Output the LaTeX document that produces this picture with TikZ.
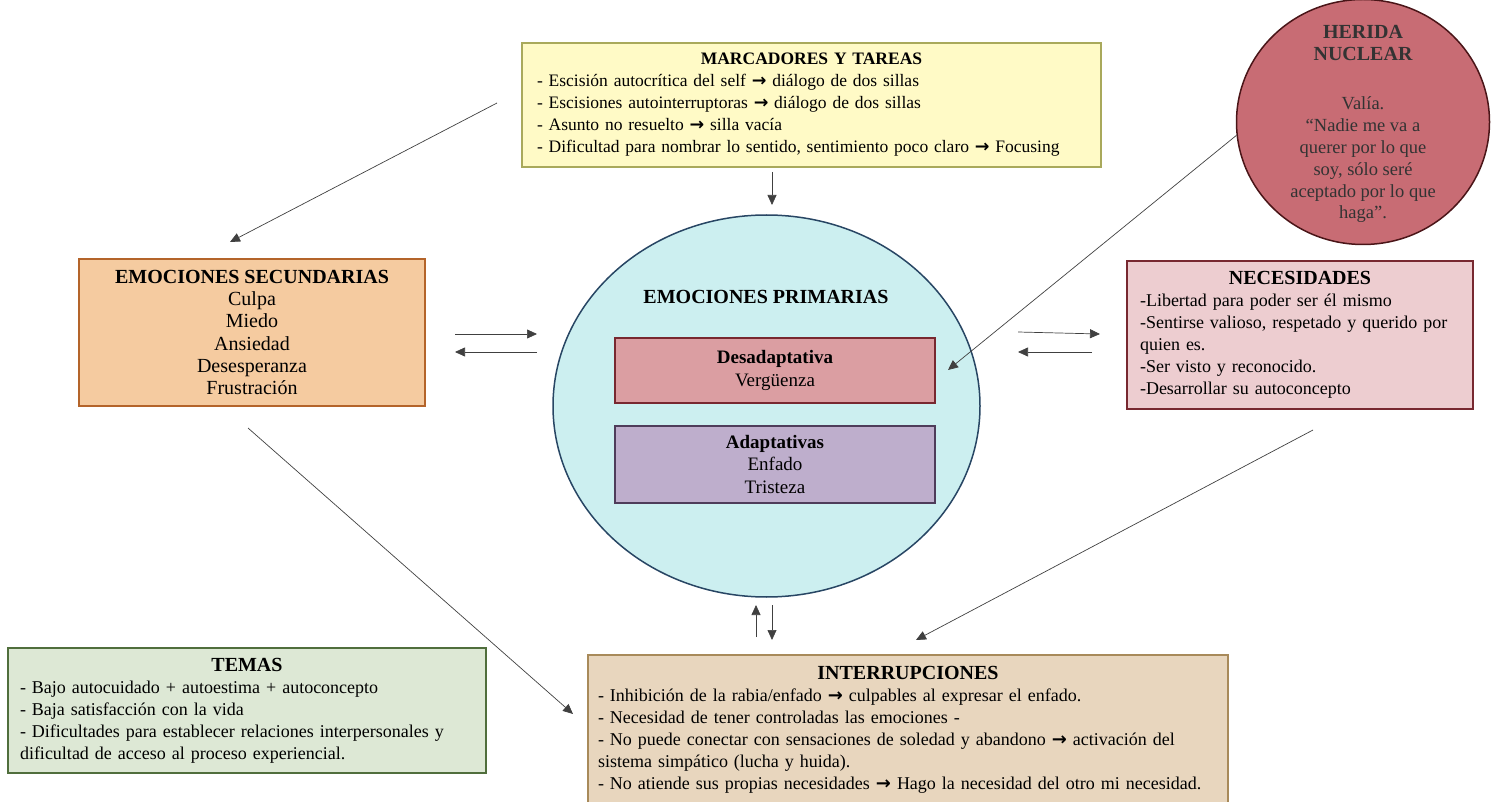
\documentclass[tikz,border=0pt]{standalone}
\usepackage{fontspec}
\setmainfont{Liberation Serif}
\newfontfamily\symbolfont{DejaVu Sans}
\usetikzlibrary{arrows.meta,shapes.geometric,calc}

\definecolor{marcfill}{HTML}{FFFAC6}
\definecolor{marcline}{HTML}{A9A95B}
\definecolor{heridafill}{HTML}{C86C74}
\definecolor{heridaline}{HTML}{4A1518}
\definecolor{heridatext}{HTML}{333333}
\definecolor{secfill}{HTML}{F5CBA0}
\definecolor{secline}{HTML}{B4642A}
\definecolor{primfill}{HTML}{CCEFF0}
\definecolor{primline}{HTML}{284664}
\definecolor{desfill}{HTML}{DB9EA2}
\definecolor{desline}{HTML}{782830}
\definecolor{adapfill}{HTML}{BEAECC}
\definecolor{adapline}{HTML}{4E3C5A}
\definecolor{necfill}{HTML}{EDCDD0}
\definecolor{necline}{HTML}{782830}
\definecolor{temfill}{HTML}{DDE8D5}
\definecolor{temline}{HTML}{506E3C}
\definecolor{intfill}{HTML}{E8D6BE}
\definecolor{intline}{HTML}{A88A5A}

\newcommand{\fl}{{\symbolfont\bfseries →}}
\newcommand{\tit}[1]{{\fontsize{20}{22}\selectfont\bfseries #1}}

\begin{document}
\fontsize{18}{22}\selectfont
\begin{tikzpicture}[x=1pt,y=-1pt,
    caja/.style={draw, line width=1.5pt, rectangle, inner sep=0pt},
    cuerpo/.style={font=\fontsize{18}{22}\selectfont},
    grande/.style={font=\fontsize{20}{22.3}\selectfont},
    flecha/.style={-{Triangle[length=10pt,width=9pt]}, line width=0.7pt, draw=black!75}]
  \useasboundingbox (0,0) rectangle (1492,802);

  % cajas
  \node[caja, fill=marcfill, draw=marcline, minimum width=579pt, minimum height=124pt,
    text width=549pt, font=\fontsize{17.5}{22}\selectfont] (marc) at (811.5,105)
    {\centering\textbf{MARCADORES Y TAREAS}\par\raggedright
     - Escisión autocrítica del self \fl{} diálogo de dos sillas\\
     - Escisiones autointerruptoras \fl{} diálogo de dos sillas\\
     - Asunto no resuelto \fl{} silla vacía\\
     - Dificultad para nombrar lo sentido, sentimiento poco claro \fl{} Focusing};

  \node[ellipse, draw=heridaline, fill=heridafill, line width=1.5pt, inner sep=0pt,
    minimum width=253pt, minimum height=245pt] (herida) at (1363,122) {};
  \node[text=heridatext, align=center, font=\fontsize{18.5}{21.8}\selectfont]
    (heridatxt) at (1363,124)
    {\tit{HERIDA}\\\tit{NUCLEAR}\\[28pt]Valía.\\“Nadie me va a\\querer por lo que\\
     soy, sólo seré\\aceptado por lo que\\haga”.};

  \node[caja, fill=secfill, draw=secline, minimum width=346pt, minimum height=147pt,
    align=center, grande] (sec) at (252,332.5)
    {\textbf{EMOCIONES SECUNDARIAS}\\Culpa\\Miedo\\Ansiedad\\Desesperanza\\Frustración};

  \node[ellipse, draw=primline, fill=primfill, line width=1.5pt, inner sep=0pt,
    minimum width=427pt, minimum height=382pt] (prim) at (766.5,406) {};
  \node[grande] (primtit) at (766,297) {\textbf{EMOCIONES PRIMARIAS}};
  \node[caja, fill=desfill, draw=desline, minimum width=320pt, minimum height=65pt,
    align=center, font=\fontsize{19}{23}\selectfont] (desad) at (775,370.5)
    {\textbf{Desadaptativa}\\Vergüenza};
  \node[caja, fill=adapfill, draw=adapline, minimum width=320pt, minimum height=77pt,
    align=center, font=\fontsize{19}{22.5}\selectfont] (adap) at (775,464.5)
    {\textbf{Adaptativas}\\Enfado\\Tristeza};

  \node[caja, fill=necfill, draw=necline, minimum width=346pt, minimum height=148pt,
    text width=320pt, cuerpo] (nec) at (1300,335)
    {\centering\tit{NECESIDADES}\par\raggedright
     -Libertad para poder ser él mismo\\
     -Sentirse valioso, respetado y querido por\\quien es.\\
     -Ser visto y reconocido.\\
     -Desarrollar su autoconcepto};

  \node[caja, fill=temfill, draw=temline, minimum width=478pt, minimum height=125pt,
    text width=454pt, cuerpo] (temas) at (247,710.5)
    {\centering\tit{TEMAS}\par\raggedright
     - Bajo autocuidado + autoestima + autoconcepto\\
     - Baja satisfacción con la vida\\
     - Dificultades para establecer relaciones interpersonales y\\
     dificultad de acceso al proceso experiencial.};

  \node[caja, fill=intfill, draw=intline, minimum width=640pt, minimum height=149pt,
    text width=620pt, cuerpo] (inter) at (908,729.5)
    {\centering\tit{INTERRUPCIONES}\par\raggedright
     - Inhibición de la rabia/enfado \fl{} culpables al expresar el enfado.\\
     - Necesidad de tener controladas las emociones -\\
     - No puede conectar con sensaciones de soledad y abandono \fl{} activación del\\
     sistema simpático (lucha y huida).\\
     - No atiende sus propias necesidades \fl{} Hago la necesidad del otro mi necesidad.};

  % extremos de las flechas
  \coordinate (marcA) at (497,103);
  \coordinate (secA) at (230,242);
  \coordinate (marcB) at (772,172);
  \coordinate (primA) at (772,205);
  \coordinate (desA) at (948,370);
  \coordinate (secR1) at (455,334);
  \coordinate (primL1) at (537,334);
  \coordinate (secR2) at (455,352);
  \coordinate (primL2) at (537,352);
  \coordinate (primR1) at (1018,332);
  \coordinate (necL1) at (1100,334);
  \coordinate (primR2) at (1018,352);
  \coordinate (necL2) at (1092,352);
  \coordinate (secB) at (248,428);
  \coordinate (interA) at (573,714);
  \coordinate (necB) at (1313,430);
  \coordinate (interB) at (916,640);
  \coordinate (primB1) at (756,605);
  \coordinate (interC1) at (756,637);
  \coordinate (primB2) at (772,605);
  \coordinate (interC2) at (772,640);

  % flechas
  \draw[flecha] (marcA) -- (secA);
  \draw[flecha] (marcB) -- (primA);
  \draw[flecha] (herida.186) -- (desA);
  \draw[flecha] (secR1) -- (primL1);
  \draw[flecha] (primL2) -- (secR2);
  \draw[flecha] (primR1) -- (necL1);
  \draw[flecha] (necL2) -- (primR2);
  \draw[flecha] (secB) -- (interA);
  \draw[flecha] (necB) -- (interB);
  \draw[flecha] (interC1) -- (primB1);
  \draw[flecha] (primB2) -- (interC2);
\end{tikzpicture}
\end{document}
